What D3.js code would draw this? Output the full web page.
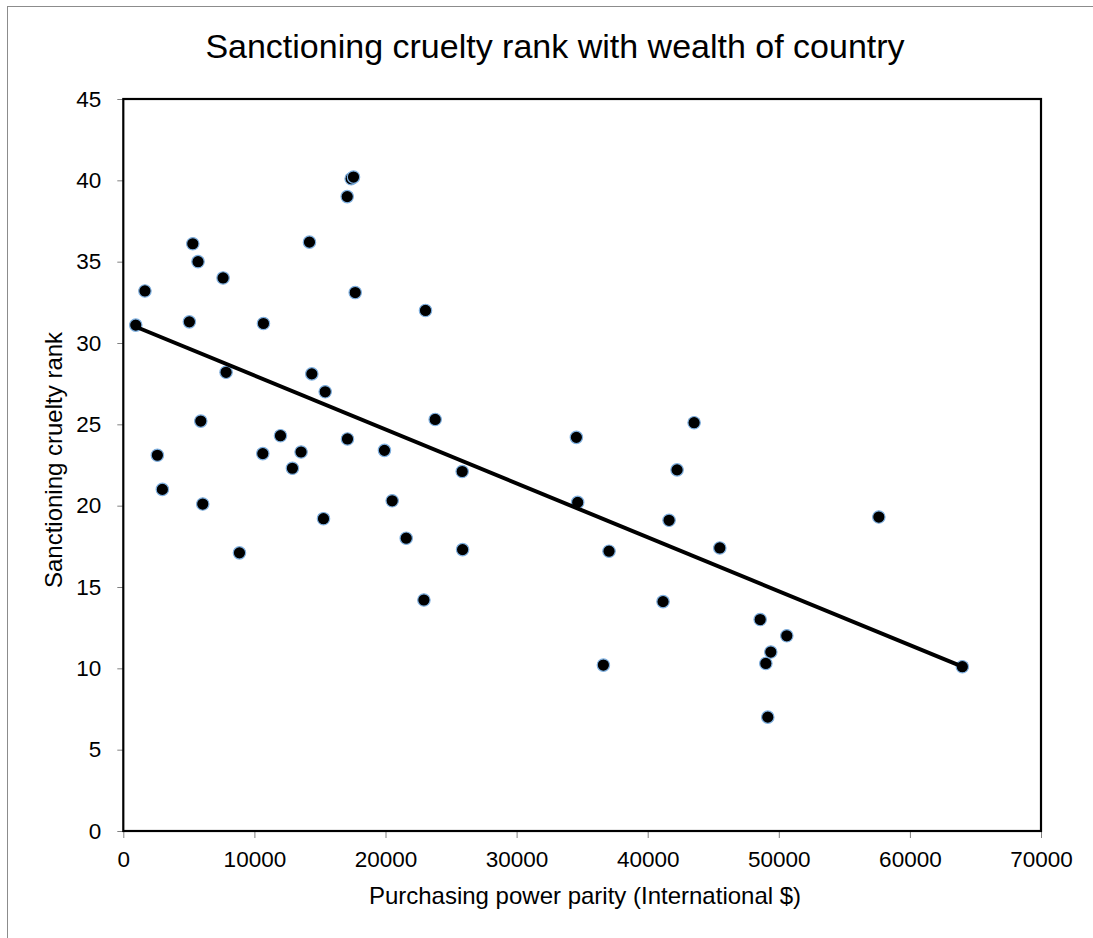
<!DOCTYPE html>
<html>
<head>
<meta charset="utf-8">
<script src="https://cdn.jsdelivr.net/npm/d3@7"></script>
<style>
  html, body { margin: 0; padding: 0; background: #fff; }
  svg { display: block; }
  text { font-family: "Liberation Sans", Arial, sans-serif; fill: #000; }
</style>
</head>
<body>
<div id="chart"></div>
<script>
// ---- Data ----
const ppp = [950, 1650, 5040, 5300, 5700, 7610, 10690, 7840, 14200, 14380,
             17080, 17380, 17560, 17690, 23050, 15400, 5910, 2600, 2980, 6060,
             8860, 10640, 11990, 13560, 12900, 17100, 15270, 19920, 20510, 21580,
             23790, 25850, 25880, 22930, 34560, 34660, 43540, 42240, 41630, 37050,
             45500, 41170, 57630, 48580, 50610, 49390, 49010, 36620, 49160, 64000];
const rank = [31.1, 33.2, 31.3, 36.1, 35.0, 34.0, 31.2, 28.2, 36.2, 28.1,
              39.0, 40.1, 40.2, 33.1, 32.0, 27.0, 25.2, 23.1, 21.0, 20.1,
              17.1, 23.2, 24.3, 23.3, 22.3, 24.1, 19.2, 23.4, 20.3, 18.0,
              25.3, 22.1, 17.3, 14.2, 24.2, 20.2, 25.1, 22.2, 19.1, 17.2,
              17.4, 14.1, 19.3, 13.0, 12.0, 11.0, 10.3, 10.2, 7.0, 10.1];
// Linear trendline endpoints (as drawn in the reference)
const trendX = [950, 64000];
const trendY = [31.0, 10.1];
const xTicks = [0, 10000, 20000, 30000, 40000, 50000, 60000, 70000];
const yTicks = [0, 5, 10, 15, 20, 25, 30, 35, 40, 45];
const titleText = "Sanctioning cruelty rank with wealth of country";
const xTitle = "Purchasing power parity (International $)";
const yTitle = "Sanctioning cruelty rank";

// ---- Layout ----
const W = 1093, H = 938;
const plot = { left: 123.3, top: 99, right: 1041, bottom: 831 };

const svg = d3.select("#chart").append("svg")
  .attr("width", W).attr("height", H);

// outer chart border (grey)
svg.append("rect")
  .attr("x", 7.5).attr("y", 6.5)
  .attr("width", W + 10).attr("height", H + 10)
  .attr("fill", "#fff").attr("stroke", "#8c8c8c").attr("stroke-width", 1);

const x = d3.scaleLinear().domain([0, 70000]).range([plot.left, plot.right]);
const y = d3.scaleLinear().domain([0, 45]).range([plot.bottom, plot.top]);

// Axes
const xAxis = d3.axisBottom(x).tickValues(xTicks).tickFormat(d3.format("d"))
  .tickSizeInner(7).tickSizeOuter(0).tickPadding(13);
const yAxis = d3.axisLeft(y).tickValues(yTicks).tickFormat(d3.format("d"))
  .tickSizeInner(6).tickSizeOuter(0).tickPadding(16);

const gx = svg.append("g").attr("transform", `translate(0,${plot.bottom})`).call(xAxis);
const gy = svg.append("g").attr("transform", `translate(${plot.left},0)`).call(yAxis);
[gx, gy].forEach(g => {
  g.select(".domain").remove();
  g.selectAll(".tick line").attr("stroke", "#808080").attr("stroke-width", 1);
  g.selectAll(".tick text")
    .style("font-family", '"Liberation Sans", Arial, sans-serif')
    .style("font-size", "22.5px").attr("fill", "#000");
});

// Plot frame
svg.append("rect")
  .attr("x", plot.left).attr("y", plot.top)
  .attr("width", plot.right - plot.left).attr("height", plot.bottom - plot.top)
  .attr("fill", "none").attr("stroke", "#000").attr("stroke-width", 2.2);

// Points
const pts = ppp.map((v, i) => ({ x: v, y: rank[i] }));
svg.append("g").selectAll("circle").data(pts).join("circle")
  .attr("cx", d => x(d.x)).attr("cy", d => y(d.y))
  .attr("r", 6.2)
  .attr("fill", "#000")
  .attr("stroke", "#7fb0e0").attr("stroke-width", 1.2);

// Trendline
svg.append("line")
  .attr("x1", x(trendX[0])).attr("y1", y(trendY[0]))
  .attr("x2", x(trendX[1])).attr("y2", y(trendY[1]))
  .attr("stroke", "#000").attr("stroke-width", 4).attr("stroke-linecap", "butt");

// Titles
svg.append("text")
  .attr("x", 555).attr("y", 58)
  .attr("text-anchor", "middle")
  .style("font-size", "34px")
  .text(titleText);

svg.append("text")
  .attr("x", 585).attr("y", 904)
  .attr("text-anchor", "middle")
  .style("font-size", "24px")
  .text(xTitle);

svg.append("text")
  .attr("transform", `translate(62,460) rotate(-90)`)
  .attr("text-anchor", "middle")
  .style("font-size", "24px")
  .text(yTitle);
</script>
</body>
</html>
